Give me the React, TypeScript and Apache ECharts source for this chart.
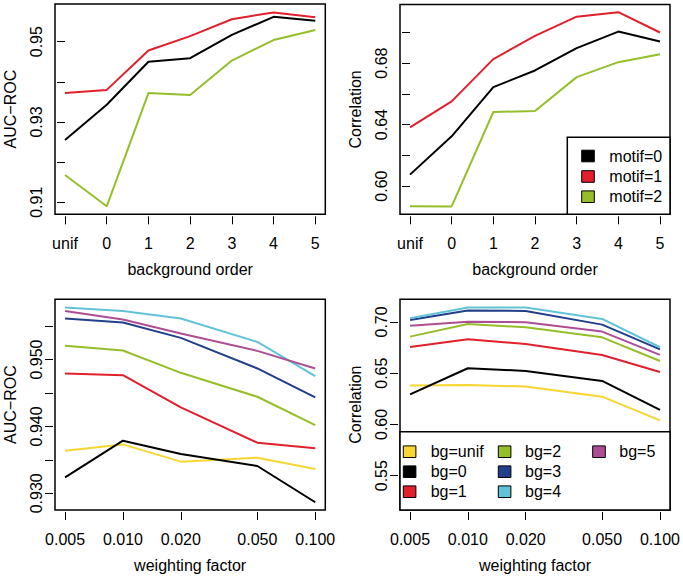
import React, { useEffect, useRef } from "react";
import * as echarts from "echarts";

// ---------- data ----------
const bgOrders = ["unif", "0", "1", "2", "3", "4", "5"];
const motifNames = ["motif=0", "motif=1", "motif=2"];
const motifColors = ["#000000", "#E21F2C", "#95BE2A"];

const aucMotif0 = [0.9255, 0.9343, 0.945, 0.9459, 0.9517, 0.9562, 0.9552];
const aucMotif1 = [0.9372, 0.938, 0.9478, 0.9514, 0.9556, 0.9573, 0.9561];
const aucMotif2 = [0.9168, 0.909, 0.9372, 0.9367, 0.9453, 0.9504, 0.9529];

const corMotif0 = [0.6075, 0.6324, 0.6644, 0.6752, 0.6897, 0.7005, 0.694];
const corMotif1 = [0.6382, 0.6551, 0.6826, 0.6977, 0.7102, 0.7131, 0.6999];
const corMotif2 = [0.587, 0.5868, 0.6482, 0.6489, 0.6709, 0.6806, 0.6858];

const weights = [0.005, 0.01, 0.02, 0.05, 0.1];
const bgNames = ["bg=unif", "bg=0", "bg=1", "bg=2", "bg=3", "bg=4", "bg=5"];
const bgColors = ["#F7D631", "#000000", "#E21F2C", "#95BE2A", "#213F8A", "#62C3D8", "#AD4E95"];

const aucBgUnif = [0.93637, 0.93731, 0.93473, 0.93532, 0.93363];
const aucBg0 = [0.93239, 0.93786, 0.93587, 0.93408, 0.92866];
const aucBg1 = [0.94791, 0.94766, 0.94284, 0.93756, 0.93672];
const aucBg2 = [0.95204, 0.95134, 0.94801, 0.94443, 0.9402];
const aucBg3 = [0.95612, 0.95552, 0.95323, 0.94866, 0.94433];
const aucBg4 = [0.95776, 0.95726, 0.95612, 0.95264, 0.94751];
const aucBg5 = [0.95726, 0.95597, 0.95388, 0.95129, 0.94866];

const corBgUnif = [0.6379, 0.6385, 0.6369, 0.6271, 0.604];
const corBg0 = [0.6294, 0.6548, 0.6522, 0.6424, 0.6141];
const corBg1 = [0.6756, 0.6831, 0.6785, 0.6678, 0.6512];
const corBg2 = [0.6857, 0.698, 0.6948, 0.685, 0.6619];
const corBg3 = [0.702, 0.7111, 0.7107, 0.6974, 0.6733];
const corBg4 = [0.7036, 0.714, 0.714, 0.7029, 0.6753];
const corBg5 = [0.6964, 0.7003, 0.6997, 0.6906, 0.6678];

const aucTicksTop = [0.91, 0.92, 0.93, 0.94, 0.95];
const aucLabelsTop = [0.91, 0.93, 0.95];
const corTicksTop = [0.6, 0.62, 0.64, 0.66, 0.68, 0.7];
const corLabelsTop = [0.6, 0.64, 0.68];
const aucTicksBottom = [0.93, 0.935, 0.94, 0.945, 0.95, 0.955];
const aucLabelsBottom = [0.93, 0.94, 0.95];
const corTicksBottom = [0.55, 0.6, 0.65, 0.7];

const FONT = "Liberation Sans, Arial, Helvetica, sans-serif";
const FS = 16;

export default function App() {
  const ref = useRef<HTMLDivElement>(null);
  useEffect(() => {
    if (!ref.current) return;
    const chart = echarts.init(ref.current, null, { renderer: "svg" });

    const grids = [
      { left: 55, top: 4, width: 270.3, height: 210.3 },
      { left: 400, top: 4.5, width: 270, height: 209.8 },
      { left: 55, top: 299.3, width: 270.3, height: 210.7 },
      { left: 400, top: 299.3, width: 270, height: 210.7 },
    ].map((g) => ({
      ...g,
      show: true,
      borderColor: "#000",
      borderWidth: 1.5,
      backgroundColor: "transparent",
      containLabel: false,
    }));

    const textStyle = { color: "#000", fontFamily: FONT, fontSize: FS };

    const xBase = (gi: number, name: string) => ({
      gridIndex: gi,
      name,
      nameLocation: "middle" as const,
      nameGap: 45,
      nameTextStyle: { ...textStyle },
      offset: 2,
      axisLine: { show: false },
      splitLine: { show: false },
      axisTick: { show: true, length: 8, lineStyle: { color: "#000", width: 1 } },
      axisLabel: { ...textStyle, margin: 19, hideOverlap: false, showMinLabel: true, showMaxLabel: true },
    });

    const orderAxis = (gi: number) => {
      const b = xBase(gi, "background order");
      const idx = bgOrders.map((_, i) => i);
      return {
        ...b,
        type: "value" as const,
        min: -0.24,
        max: 6.24,
        axisTick: { ...b.axisTick, customValues: idx },
        axisLabel: {
          ...b.axisLabel,
          customValues: idx,
          formatter: (v: number) => bgOrders[Math.round(v)] ?? "",
        },
      };
    };

    const weightAxis = (gi: number) => {
      const b = xBase(gi, "weighting factor");
      return {
        ...b,
        type: "log" as const,
        logBase: 10,
        min: 0.004433,
        max: 0.11279,
        axisTick: { ...b.axisTick, customValues: weights },
        axisLabel: {
          ...b.axisLabel,
          customValues: weights,
          formatter: (v: number) => v.toFixed(3),
        },
      };
    };

    const yAxis = (
      gi: number,
      name: string,
      min: number,
      max: number,
      ticks: number[],
      labels: number[],
      digits: number
    ) => ({
      type: "value" as const,
      gridIndex: gi,
      name,
      nameLocation: "middle" as const,
      nameGap: 35,
      nameRotate: 90,
      nameTextStyle: { ...textStyle },
      min,
      max,
      offset: 2,
      axisLine: { show: false },
      splitLine: { show: false },
      axisTick: { show: true, length: 8, customValues: ticks, lineStyle: { color: "#000", width: 1 } },
      axisLabel: {
        ...textStyle,
        rotate: 90,
        margin: 9,
        customValues: labels,
        formatter: (v: number) => v.toFixed(digits),
        hideOverlap: false,
      },
    });

    const line = (name: string, color: string, xi: number, data: number[][]) => ({
      type: "line" as const,
      name,
      xAxisIndex: xi,
      yAxisIndex: xi,
      data,
      showSymbol: false,
      symbol: "none",
      lineStyle: { color, width: 2 },
      itemStyle: { color },
      emphasis: { disabled: true },
      silent: true,
    });

    const idxPairs = (vals: number[]) => vals.map((v, i) => [i, v]);
    const wPairs = (vals: number[]) => vals.map((v, i) => [weights[i], v]);

    const aucMotif = [aucMotif0, aucMotif1, aucMotif2];
    const corMotif = [corMotif0, corMotif1, corMotif2];
    const aucBg = [aucBgUnif, aucBg0, aucBg1, aucBg2, aucBg3, aucBg4, aucBg5];
    const corBg = [corBgUnif, corBg0, corBg1, corBg2, corBg3, corBg4, corBg5];

    const series: any[] = [];
    aucMotif.forEach((d, i) => series.push(line(motifNames[i], motifColors[i], 0, idxPairs(d))));
    corMotif.forEach((d, i) => series.push(line(motifNames[i], motifColors[i], 1, idxPairs(d))));
    aucBg.forEach((d, i) => series.push(line(bgNames[i], bgColors[i], 2, wPairs(d))));
    corBg.forEach((d, i) => series.push(line(bgNames[i], bgColors[i], 3, wPairs(d))));

    // legends (drawn as graphic boxes)
    const graphics: any[] = [];
    const swatch = (x: number, cy: number, color: string, label: string, tx: number) => {
      graphics.push({
        type: "rect",
        shape: { x, y: cy - 5.8, width: 12.6, height: 11.6 },
        style: { fill: color, stroke: "#000", lineWidth: 1 },
        z: 20,
      });
      graphics.push({
        type: "text",
        x: tx,
        y: cy,
        style: { text: label, fill: "#000", font: `${FS}px ${FONT}`, textVerticalAlign: "middle", verticalAlign: "middle" },
        z: 20,
      });
    };
    graphics.push({
      type: "rect",
      shape: { x: 567.3, y: 137.3, width: 102.7, height: 77 },
      style: { fill: "#fff", stroke: "#000", lineWidth: 1.5 },
      z: 19,
    });
    const motifRows = [156, 176.5, 196.7];
    motifNames.forEach((n, i) => swatch(581.7, motifRows[i], motifColors[i], n, 609.3));

    graphics.push({
      type: "rect",
      shape: { x: 400, y: 431.7, width: 270, height: 78.3 },
      style: { fill: "#fff", stroke: "#000", lineWidth: 1.5 },
      z: 19,
    });
    const bgRows = [451.7, 471.7, 491.7];
    const bgCols = [
      [403.3, 430.7],
      [498.3, 525],
      [592.7, 619.3],
    ];
    bgNames.forEach((n, i) => {
      const c = Math.floor(i / 3);
      const r = i % 3;
      swatch(bgCols[c][0], bgRows[r], bgColors[i], n, bgCols[c][1]);
    });

    chart.setOption({
      animation: false,
      backgroundColor: "#fff",
      textStyle: { fontFamily: FONT },
      grid: grids,
      xAxis: [orderAxis(0), orderAxis(1), weightAxis(2), weightAxis(3)],
      yAxis: [
        yAxis(0, "AUC\u2212ROC", 0.90701, 0.95939, aucTicksTop, aucLabelsTop, 2),
        yAxis(1, "Correlation", 0.5817, 0.7181, corTicksTop, corLabelsTop, 2),
        yAxis(2, "AUC\u2212ROC", 0.9275, 0.959, aucTicksBottom, aucLabelsBottom, 3),
        yAxis(3, "Correlation", 0.5165, 0.7221, corTicksBottom, corTicksBottom, 2),
      ],
      series,
      graphic: graphics,
    });
    return () => chart.dispose();
  }, []);
  return (
    <div
      ref={ref}
      style={{ position: "fixed", left: 0, top: 0, width: 683, height: 581, background: "#fff" }}
    />
  );
}
